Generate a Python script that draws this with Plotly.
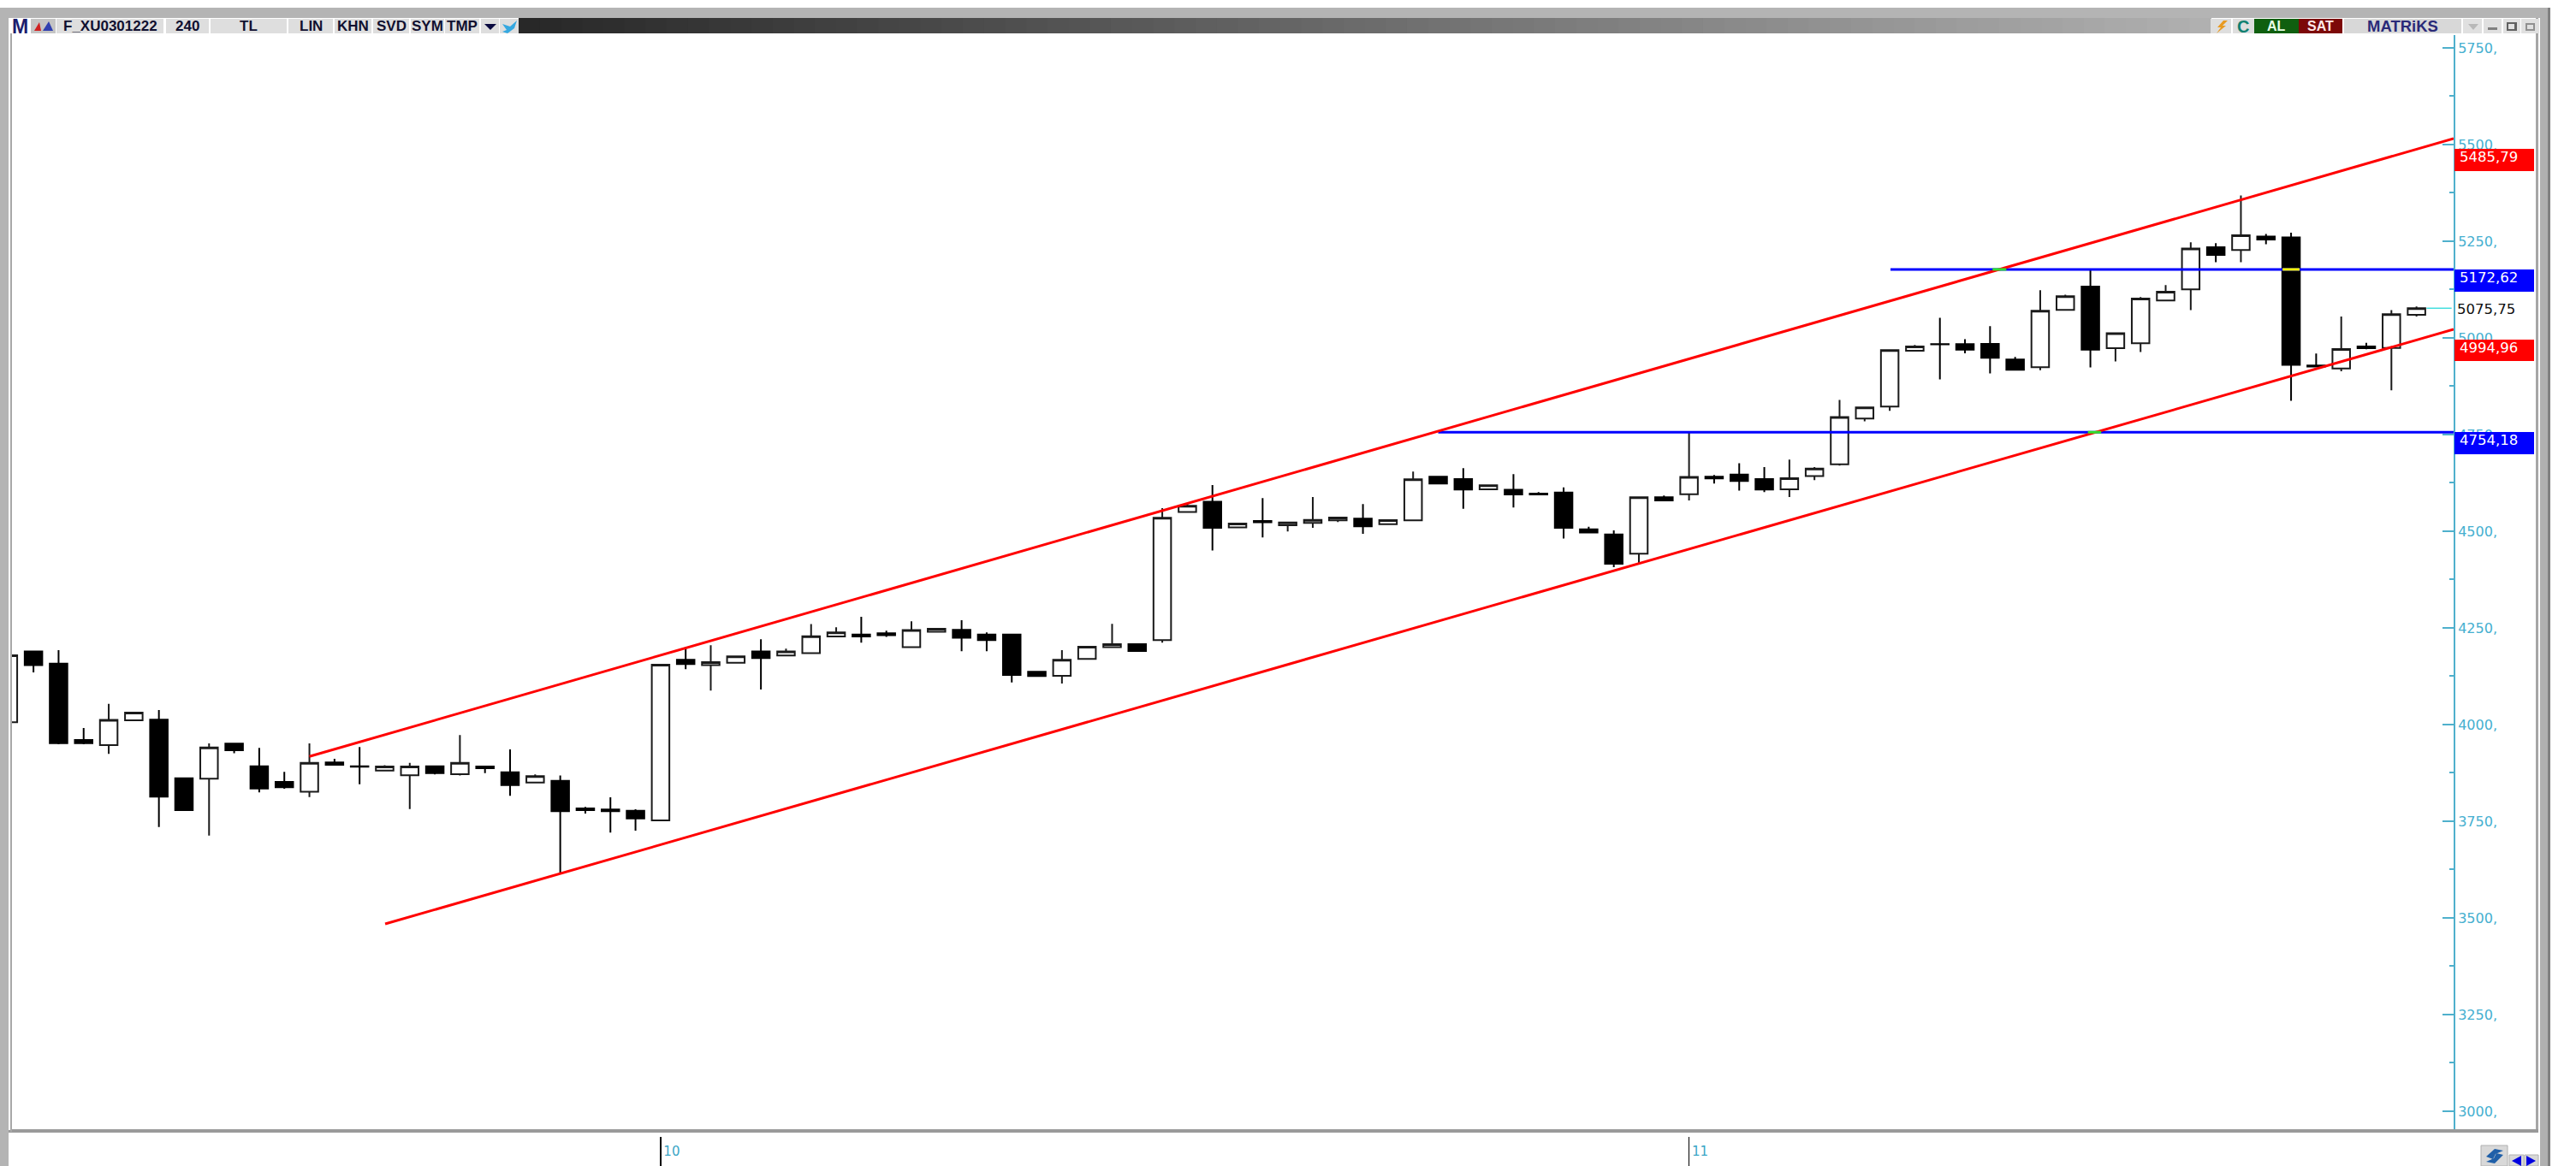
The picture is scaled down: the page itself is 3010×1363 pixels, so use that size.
import plotly.graph_objects as go

W, H = 3010, 1363

# ---- data ----
opens = [4006, 4188.8, 4157.8, 3960, 3947, 4011, 4012.5, 3861.3, 3860, 3950.6,
         3892.3, 3851.7, 3826, 3902, 3892, 3881.2, 3868.7, 3892.3, 3871.6, 3891.6,
         3876.8, 3850.2, 3854.7, 3783, 3780.2, 3777.2, 3752.2, 4167.4, 4153.4, 4160,
         4188.8, 4178.5, 4184.4, 4227.9, 4233, 4236, 4199.9, 4239.7, 4244.9, 4233,
         4233, 4136.4, 4126.1, 4169.6, 4199.9, 4208, 4218.3, 4549.5, 4576, 4509.6,
         4526.6, 4515.4, 4521.3, 4528, 4532.4, 4518.4, 4528, 4640.8, 4634.9, 4608.3,
         4606.9, 4597.3, 4600.2, 4505.1, 4491.8, 4441.7, 4587.7, 4595.8, 4640.8, 4646.7,
         4634.9, 4608.3, 4642.3, 4673.2, 4791.2, 4822.2, 4966.8, 4983.7, 4983.7, 4984.5,
         4943.9, 4924, 5072.2, 5132.7, 4973.4, 4986, 5096.6, 5125.3, 5234.5, 5227.1,
         5261.8, 5259.6, 4928.4, 4921, 4977.8, 4974.1, 5059.7]
highs = [4179, 4188.8, 4192.5, 3991, 4053.8, 4031, 4037.6, 3861.3, 3951, 3950.6,
         3939.5, 3877.5, 3951, 3911.5, 3941.7, 3895, 3901, 3892.3, 3972.7, 3891.6,
         3935.8, 3871, 3868, 3786.8, 3812, 3781, 4154.5, 4199.9, 4205, 4176.3,
         4220.5, 4196, 4260, 4251.5, 4278.8, 4242.7, 4267, 4247.8, 4270, 4238.2,
         4233, 4136.4, 4192.5, 4201.4, 4260.4, 4208, 4559.8, 4572.3, 4619.5, 4519.9,
         4585.6, 4522.8, 4588.4, 4535.3, 4570, 4528.7, 4654, 4640.8, 4662.9, 4618.7,
         4647.4, 4601, 4613.5, 4511.7, 4502.1, 4587.7, 4592.1, 4756.6, 4645.2, 4675.5,
         4665.9, 4685, 4665.9, 4839.2, 4820, 4968.2, 4981.5, 5051.6, 4996.3, 5030.2,
         4950.5, 5123.1, 5111.3, 5177, 5011.8, 5105.4, 5136.4, 5247, 5244.8, 5368,
         5268.4, 5272.1, 4959.4, 5055.3, 4987.4, 5071.5, 5081]
lows = [4006, 4135, 3949, 3949, 3924, 4011, 3735, 3778.7, 3713, 3926,
        3824.4, 3834, 3812.6, 3896, 3845.8, 3881.2, 3781.7, 3871, 3868, 3874.6,
        3815.6, 3850.2, 3613.5, 3769.9, 3720.4, 3725.6, 3752.2, 4143, 4087.8, 4160,
        4090.7, 4178.5, 4184.4, 4227.9, 4211.7, 4226.4, 4199.9, 4239.7, 4189.6, 4189.6,
        4109, 4125.4, 4106.2, 4169.6, 4199.9, 4190.3, 4211.7, 4549.5, 4450, 4509.6,
        4483.8, 4499.2, 4508.8, 4523.5, 4493.3, 4518.4, 4528, 4623, 4558.2, 4608.3,
        4561.1, 4595, 4480.8, 4496.3, 4407, 4415.9, 4579.6, 4579.6, 4623, 4604.7,
        4601, 4588.4, 4632, 4669.6, 4783.9, 4811.2, 4966.8, 4892.3, 4960, 4907.8,
        4917.4, 4916.6, 5072.2, 4923.3, 4938.8, 4963.1, 5096.6, 5071.5, 5195.4, 5195.4,
        5241.9, 4837, 4925, 4913.6, 4970.4, 4864.2, 5055.3]
closes = [4179, 4153.4, 3952, 3952, 4011.8, 4031, 3813.4, 3778.7, 3941, 3933.6,
          3834.8, 3837.7, 3901, 3896, 3891, 3891.6, 3891.6, 3874.6, 3901, 3887,
          3843.6, 3866.5, 3775.8, 3778.7, 3775.8, 3757.3, 4154.5, 4156.4, 4161.5, 4176.3,
          4171.8, 4188.8, 4228.6, 4238.2, 4227.9, 4230.9, 4244.1, 4247.8, 4224.2, 4218.3,
          4128.3, 4125.4, 4167.4, 4201.4, 4208, 4190.3, 4534.7, 4565.7, 4508.9, 4519.9,
          4522.9, 4522.8, 4529.4, 4535.3, 4512.5, 4528.7, 4634.2, 4623, 4607.6, 4618.7,
          4595, 4595, 4508.8, 4496.3, 4415.9, 4587.7, 4579.6, 4640.1, 4636.4, 4629.7,
          4607.6, 4637.1, 4662.2, 4795, 4820, 4968.2, 4977.8, 4983, 4969.7, 4948.4,
          4917.4, 5070, 5107.6, 4969.7, 5011.8, 5101.7, 5119.4, 5230.8, 5214.6, 5265.5,
          5254.4, 4929.9, 4925.5, 4971.2, 4973.4, 5061.1, 5076.6]
bar_index = list(range(len(closes)))

upper_channel_x = [12.0, 97.48]
upper_channel_y = [3917.5, 5515.5]
lower_channel_x = [15.02, 97.48]
lower_channel_y = [3484.5, 5022]
resistance_x = [75.03, 97.48]
resistance_y = [5177, 5177]
support_x = [57.0, 97.48]
support_y = [4756, 4756]
last_price_x = [96.4, 97.4]
last_price_y = [5076.6, 5076.6]
green_marks_x = [[79.1, 79.65], [82.9, 83.43]]
green_marks_y = [[5177, 5177], [4756, 4756]]
yellow_mark_x = [90.66, 91.34]
yellow_mark_y = [5177, 5177]

y_ticks = [3000, 3250, 3500, 3750, 4000, 4250, 4500, 4750, 5000, 5250, 5500, 5750]
y_tick_labels = ["3000,", "3250,", "3500,", "3750,", "4000,", "4250,", "4500,", "4750,",
                 "5000,", "5250,", "5500,", "5750,"]
y_minor = [3125, 3375, 3625, 3875, 4125, 4375, 4625, 4875, 5125, 5375, 5625]
x_ticks = [26, 67]
x_tick_labels = ["10", "11"]

level_labels = ["5485,79", "5172,62", "4994,96", "4754,18"]
level_colors = ["#ff0000", "#0000ff", "#ff0000", "#0000ff"]
last_price_label = "5075,75"
toolbar_labels = ["F_XU0301222", "240", "TL", "LIN", "KHN", "SVD", "SYM", "TMP"]

# ---- helpers for page furniture ----
def px(x): return x / W
def py(y): return 1 - y / H

shapes, notes = [], []

def rect(x0, y0, x1, y1, color, line=None):
    shapes.append(dict(type="rect", xref="paper", yref="paper", layer="above",
                       x0=px(x0), x1=px(x1), y0=py(y1), y1=py(y0),
                       fillcolor=color, line=dict(width=1 if line else 0, color=line or color)))

def poly(points, color):
    d = "M" + " L".join(f"{px(a):.5f},{py(b):.5f}" for a, b in points) + " Z"
    shapes.append(dict(type="path", xref="paper", yref="paper", layer="above", path=d,
                       fillcolor=color, line=dict(width=0)))

def label(x, y, text, color="#000000", size=16, family="Liberation Sans", anchor="center"):
    notes.append(dict(xref="paper", yref="paper", x=px(x), y=py(y), text=text, showarrow=False,
                      xanchor=anchor, yanchor="middle", align=anchor,
                      font=dict(color=color, size=size, family=family),
                      borderpad=0, borderwidth=0))

# outer frame
rect(1, 9, 2978, 21, "#b4b4b4")
rect(0, 9, 10, 1363, "#b4b4b4")
rect(10, 1321, 2966, 1324, "#9a9a9a")
rect(12, 39, 14, 1323, "#a8a8a8")
rect(2963, 21, 2966, 1324, "#a6a6a6")
rect(2968, 9, 2980, 1363, "#b0b0b0")
rect(2977, 9, 2980, 1363, "#808080")

# title bar gradient
steps = 80
for k in range(steps):
    t = k / (steps - 1)
    v = int(40 + (176 - 40) * t)
    x0 = 606 + (2583 - 606) * k / steps
    x1 = 606 + (2583 - 606) * (k + 1) / steps + 1
    rect(x0, 21, x1, 39, f"rgb({v},{v},{v})")

# left toolbar
rect(11, 22, 36, 39, "#ffffff")
label(23.5, 31, "<b>M</b>", "#1d1d6e", 23)
rect(36, 22, 65, 39, "#c4c4c4")
poly([(40, 36), (46, 26), (48, 36)], "#d02020")
poly([(50, 36), (57, 25), (62, 36)], "#3040b0")
boxes = [(66, 191), (194, 244), (246, 335), (337, 389), (391, 434), (436, 478), (480, 519), (520, 560)]
for (a, b), t in zip(boxes, toolbar_labels):
    rect(a, 22, b, 39, "#dedede")
    label((a + b) / 2, 31, f"<b>{t}</b>", "#101030", 17)
rect(562, 22, 583, 39, "#dedede")
poly([(566, 28), (580, 28), (573, 35)], "#0a0a40")
rect(584, 22, 606, 39, "#dedede")
poly([(587, 28), (596, 31), (604, 24), (601, 33), (593, 39), (587, 37), (592, 35)], "#35a8e0")

# right toolbar
rect(2583, 22, 2607, 39, "#dedede")
poly([(2598, 24), (2591, 32), (2595, 32), (2590, 39), (2601, 30), (2597, 30), (2603, 24)], "#e89a20")
rect(2609, 22, 2634, 39, "#dedede")
label(2621, 31, "<b>C</b>", "#108070", 20)
rect(2634, 22, 2686, 39, "#0f5f0f")
label(2660, 31, "<b>AL</b>", "#e8ffe8", 16)
rect(2686, 22, 2737, 39, "#7c0808")
label(2711, 31, "<b>SAT</b>", "#ffe8e8", 16)
rect(2739, 22, 2876, 39, "#d8d8d8")
label(2807, 31, "<b>MATRiKS</b>", "#2a2a78", 18.5)
for a, b in [(2878, 2900), (2902, 2923), (2925, 2945), (2946, 2967)]:
    rect(a, 22, b, 39, "#e0e0e0")
poly([(2884, 28), (2896, 28), (2890, 35)], "#b8b8b8")
rect(2907, 32, 2918, 35, "#808080")
rect(2929, 26, 2941, 36, "#606060")
rect(2931, 28, 2938, 34, "#e0e0e0")
rect(2951, 27, 2962, 36, "#909090")
rect(2953, 29, 2960, 34, "#e0e0e0")

# value flags on the right
flag_boxes = [(174, 200), (315, 341), (397, 422), (505, 531)]
for (a, b), t, c in zip(flag_boxes, level_labels, level_colors):
    rect(2868, a, 2961, b, c)
    label(2874, a + 9.5, t, "#ffffff", 16.5, "DejaVu Sans", "left")
label(2871, 361, last_price_label, "#101010", 16.5, "DejaVu Sans", "left")

# cover for the upper part of the date ticks
rect(14, 1320, 2966, 1324, "#9a9a9a")
rect(14, 1324, 2966, 1329, "#ffffff")

# bottom-right buttons
rect(2899, 1339, 2930, 1363, "#d8d8d8", "#b0b0b0")
poly([(2905, 1352), (2915, 1343), (2925, 1345), (2916, 1349), (2913, 1355)], "#1f5fa8")
poly([(2925, 1350), (2915, 1360), (2905, 1358), (2914, 1354), (2917, 1348)], "#1f5fa8")
rect(2932, 1350, 2949, 1363, "#d8d8d8", "#b0b0b0")
rect(2950, 1350, 2966, 1363, "#d8d8d8", "#b0b0b0")
poly([(2935, 1357), (2946, 1351), (2946, 1363)], "#0000e0")
poly([(2963, 1357), (2952, 1351), (2952, 1363)], "#0000e0")

# ---- figure ----
fig = go.Figure()

for xs, ys in [(resistance_x, resistance_y), (support_x, support_y)]:
    fig.add_trace(go.Scatter(x=xs, y=ys, mode="lines", line=dict(color="#0000ff", width=3),
                             hoverinfo="skip", showlegend=False))

fig.add_trace(go.Candlestick(
    x=bar_index, open=opens, high=highs, low=lows, close=closes,
    increasing=dict(fillcolor="#ffffff", line=dict(color="#1a1a1a", width=2)),
    decreasing=dict(fillcolor="#000000", line=dict(color="#000000", width=2)),
    whiskerwidth=0, showlegend=False, hoverinfo="skip"))

for xs, ys in [(upper_channel_x, upper_channel_y), (lower_channel_x, lower_channel_y)]:
    fig.add_trace(go.Scatter(x=xs, y=ys, mode="lines", line=dict(color="#ff0000", width=3),
                             hoverinfo="skip", showlegend=False))

fig.add_trace(go.Scatter(x=last_price_x, y=last_price_y, mode="lines",
                         line=dict(color="#40dede", width=1.5), hoverinfo="skip", showlegend=False))
for xs, ys in zip(green_marks_x, green_marks_y):
    fig.add_trace(go.Scatter(x=xs, y=ys, mode="lines", line=dict(color="#30e030", width=3),
                             hoverinfo="skip", showlegend=False))
fig.add_trace(go.Scatter(x=yellow_mark_x, y=yellow_mark_y, mode="lines",
                         line=dict(color="#ffff00", width=3), hoverinfo="skip", showlegend=False))

fig.update_layout(
    width=W, height=H, margin=dict(l=0, r=0, t=0, b=0, autoexpand=False),
    paper_bgcolor="#ffffff", plot_bgcolor="#ffffff", showlegend=False,
    hovermode=False, shapes=shapes, annotations=notes, dragmode=False,
    boxgap=0.3, boxgroupgap=0,
    xaxis=dict(domain=[px(14), px(2867)], range=[0.143, 97.48], rangeslider=dict(visible=False),
               showgrid=False, zeroline=False, showline=False,
               tickmode="array", tickvals=x_ticks, ticktext=x_tick_labels,
               ticks="outside", ticklen=43, tickwidth=1.5, tickcolor="#000000",
               ticklabelstandoff=-31, ticklabelshift=13,
               tickfont=dict(color="#3aa6c6", size=15, family="DejaVu Sans")),
    yaxis=dict(domain=[py(1320), py(41)], range=[2953.5, 5783], side="right", anchor="x",
               showgrid=False, zeroline=False, showline=True, linecolor="#4fb0cc", linewidth=2,
               tickmode="array", tickvals=y_ticks, ticktext=y_tick_labels,
               ticks="inside", ticklen=13, tickwidth=2, tickcolor="#4fb0cc",
               minor=dict(tickmode="array", tickvals=y_minor, ticks="inside", ticklen=5,
                          tickwidth=2, tickcolor="#4fb0cc", showgrid=False),
               tickfont=dict(color="#45afd0", size=16, family="DejaVu Sans")),
)

fig.write_html("out.html", config=dict(displayModeBar=False, staticPlot=True),
               post_script="document.body.style.margin='0';document.body.style.overflow='hidden';")
